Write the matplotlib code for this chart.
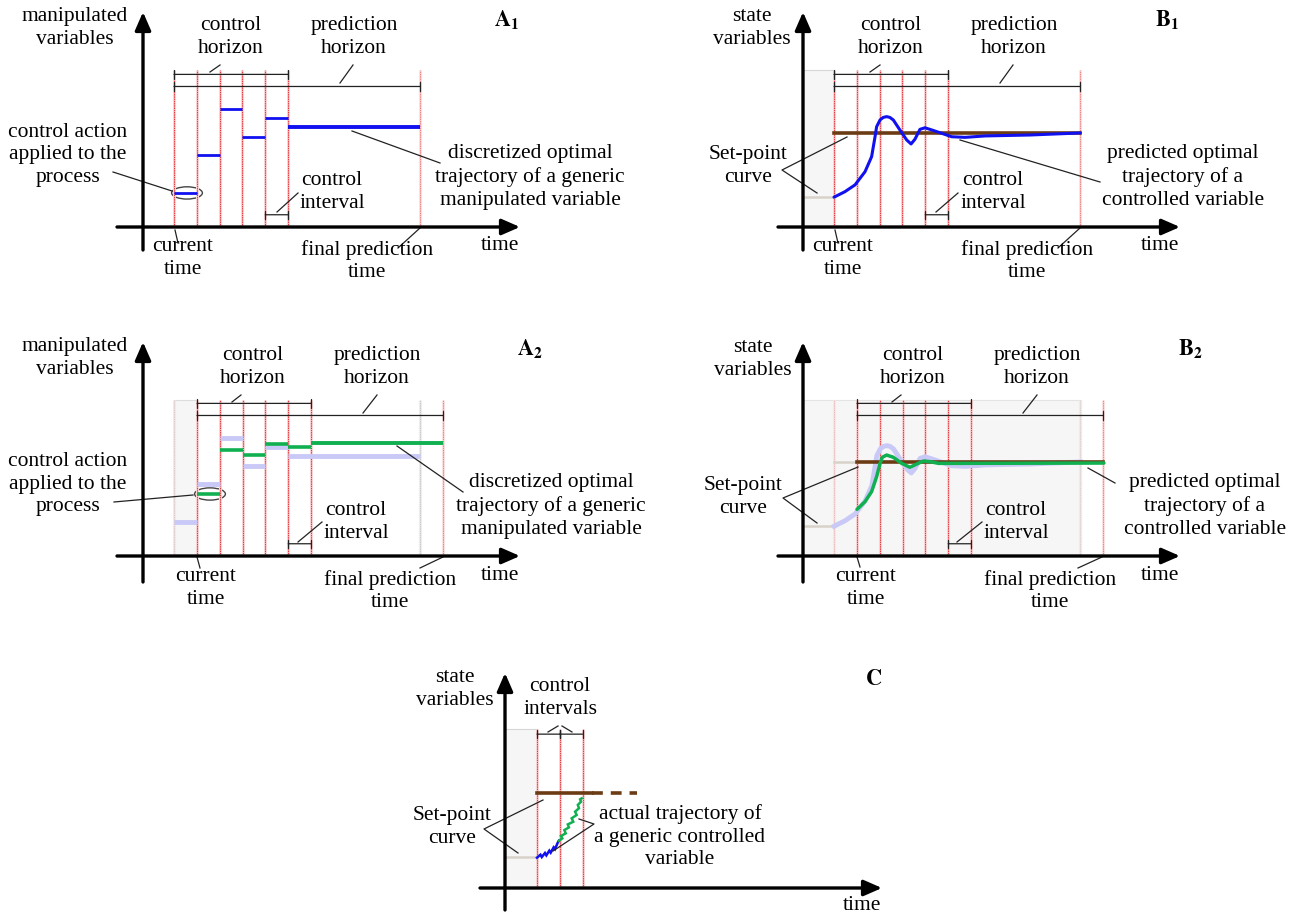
import matplotlib
matplotlib.use("Agg")
import matplotlib.pyplot as plt
from matplotlib.patches import Ellipse, Rectangle

plt.rcParams['font.family'] = ['Liberation Serif', 'DejaVu Serif']
plt.rcParams['mathtext.fontset'] = 'stix'

# ---------------- data (time in control intervals, value in arbitrary units) ----------------
interval_edges = [0, 1, 2, 3, 4, 5]          # control intervals inside the control horizon
final_prediction = 10.8                        # final prediction time
control_horizon = [0, 5]
prediction_horizon = [0, 10.8]

A1_steps = [2.17, 4.59, 7.52, 5.73, 6.94, 6.37]      # blue optimal moves (A1)
A2_steps = [3.95, 6.75, 6.43, 7.13, 6.94, 7.20]      # green optimal moves (A2)

B1_t = [0, 0.48, 0.92, 1.36, 1.65, 1.80, 1.87, 2.02, 2.16, 2.31, 2.45, 2.60, 2.89,
        3.19, 3.38, 3.55, 3.77, 3.99, 4.29, 4.72, 5.16, 5.75, 6.62, 8.6, 10.8]
B1_y = [1.90, 2.25, 2.68, 3.52, 4.48, 5.75, 6.39, 6.82, 6.98, 7.03, 6.98, 6.82, 6.18,
        5.54, 5.29, 5.59, 6.22, 6.32, 6.18, 5.97, 5.75, 5.71, 5.80, 5.86, 5.99]

B2_t = [0, 0.35, 0.64, 0.86, 1.01, 1.11, 1.30, 1.59, 1.96, 2.32, 2.62, 2.91, 3.20,
        3.57, 4.15, 10.83]
B2_y = [2.97, 3.46, 4.10, 5.05, 5.90, 6.29, 6.43, 6.29, 5.90, 5.65, 5.86, 6.05, 6.01,
        5.90, 5.90, 5.92]

setpoint_low, setpoint_high = 1.90, 5.97

C_blue_t = [0.0, 0.15, 0.21, 0.35, 0.41, 0.54, 0.60, 0.73, 0.79, 0.91, 0.96]
C_blue_y = [1.93, 2.12, 1.97, 2.23, 2.08, 2.38, 2.25, 2.59, 2.48, 2.89, 3.01]
C_green_t = [0.96, 1.11, 1.05, 1.26, 1.20, 1.40, 1.35, 1.59, 1.52, 1.74, 1.67, 1.84,
             1.79, 1.93, 1.89, 1.96]
C_green_y = [3.01, 3.16, 3.31, 3.48, 3.69, 3.86, 4.05, 4.22, 4.44, 4.65, 4.86, 5.08,
             5.29, 5.50, 5.65, 5.71]
C_setpoint = [1.97, 6.05]
C_setpoint_solid_end, C_setpoint_dash_end = 2.4, 4.4

# ---------------- layout ----------------
W, H = 1291, 913
SX, SY = 22.8, 15.7
fig = plt.figure(figsize=(W / 100, H / 100), dpi=100)

RED = '#e8353a'
PINK = '#f9d3d3'
BLUE = '#1010f0'
FADED = '#c9c9f7'
GREEN = '#10b050'
BROWN = '#6b3c14'
SHADE = '#f6f6f6'


def panel(x0, y0):
    ax = fig.add_axes([0, 0, 1, 1])
    ax.set_xlim(-x0 / SX, (W - x0) / SX)
    ax.set_ylim((y0 - H) / SY, y0 / SY)
    ax.axis('off')
    ax.patch.set_alpha(0)
    return ax


def vline(ax, t, top, color=RED, halo=PINK):
    ax.plot([t, t], [0, top], color=halo, lw=2.2, solid_capstyle='butt')
    ax.plot([t, t], [0, top], color=color, lw=0.7, ls=(0, (1.5, 0.8)))


def bar(ax, t0, t1, y):
    ax.annotate('', xy=(t1, y), xytext=(t0, y),
                arrowprops=dict(arrowstyle='|-|,widthA=0.25,widthB=0.25', lw=0.9,
                                color='#222222', shrinkA=0, shrinkB=0, mutation_scale=12))


def steps(ax, edges_start, vals, end, color, lw):
    starts = [edges_start + i for i in range(len(vals))]
    ends = starts[1:] + [end]
    for s, e, v in zip(starts, ends, vals):
        ax.plot([s, e], [v, v], color=color, lw=lw, solid_capstyle='butt')


def mpc_frame(ax, shade_from=None, shade_to=0, top=10.0):
    if shade_from is not None:
        ax.add_patch(Rectangle((shade_from, 0), shade_to - shade_from, top,
                               facecolor=SHADE, edgecolor='#d6d6d6', lw=0.8))
    for t in interval_edges:
        vline(ax, t, top)
    vline(ax, final_prediction, top, color='#f08080', halo='#fbe0e0')
    bar(ax, control_horizon[0], control_horizon[1], 9.72)
    bar(ax, prediction_horizon[0], prediction_horizon[1], 8.95)
    bar(ax, 4, 5, 0.78)


# ---- A1
axA1 = panel(174, 227)
mpc_frame(axA1)
steps(axA1, 0, A1_steps[:-1], 5, BLUE, 2.0)
steps(axA1, 5, A1_steps[-1:], final_prediction, BLUE, 2.8)
axA1.add_patch(Ellipse((0.57, A1_steps[0]), 1.35, 0.78, fill=False, ec='#444444', lw=1.0))

# ---- A2
axA2 = panel(197, 556)
axA2.add_patch(Rectangle((-1, 0), 1, 9.94, facecolor=SHADE, edgecolor='#dddddd', lw=0.8))
vline(axA2, -1, 9.94, color='#e0c8c8', halo='#f0eaea')
vline(axA2, final_prediction - 1, 9.94, color='#c8c8c8', halo='#eeeeee')
mpc_frame(axA2, top=9.94)
steps(axA2, -1, A1_steps[:-1], 4, FADED, 3.5)
steps(axA2, 4, A1_steps[-1:], final_prediction - 1, FADED, 3.5)
steps(axA2, 0, A2_steps[:-1], 5, GREEN, 2.6)
steps(axA2, 5, A2_steps[-1:], final_prediction, GREEN, 2.8)
axA2.add_patch(Ellipse((0.57, A2_steps[0]), 1.35, 0.78, fill=False, ec='#444444', lw=1.0))

# ---- B1
axB1 = panel(834, 227)
mpc_frame(axB1, shade_from=-1.36)
axB1.plot([-1.36, 0], [setpoint_low] * 2, color='#d9d2c9', lw=1.8)
axB1.plot([0, final_prediction], [setpoint_high] * 2, color=BROWN, lw=2.6)
axB1.plot(B1_t, B1_y, color=BLUE, lw=2.2, solid_joinstyle='round', solid_capstyle='round')

# ---- B2
axB2 = panel(857, 556)
axB2.add_patch(Rectangle((-2.37, 0), 12.2, 9.94, facecolor=SHADE, edgecolor='#e4e4e4', lw=0.8))
vline(axB2, -1, 9.94, color='#f0b8b8', halo='#f6e8e8')
vline(axB2, final_prediction - 1, 9.94, color='#e0d0d0', halo='#f0eaea')
mpc_frame(axB2, top=9.94)
axB2.plot([-2.37, -1], [setpoint_low] * 2, color='#d9d2c9', lw=1.8)
axB2.plot([-1, 0], [setpoint_high] * 2, color='#d9d2c9', lw=1.8)
axB2.plot([t - 1 for t in B1_t], B1_y, color=FADED, lw=3.5, solid_joinstyle='round')
axB2.plot([0, final_prediction], [setpoint_high] * 2, color=BROWN, lw=2.6)
axB2.plot(B2_t, B2_y, color=GREEN, lw=2.5, solid_joinstyle='round', solid_capstyle='round')

# ---- C
axC = panel(537, 888)
axC.add_patch(Rectangle((-1.4, 0), 1.4, 10.1, facecolor=SHADE, edgecolor='#d6d6d6', lw=0.8))
for t in interval_edges[:3]:
    vline(axC, t, 10.1)
for a, b in zip(interval_edges[:2], interval_edges[1:3]):
    bar(axC, a, b, 9.8)
axC.plot([-1.4, 0], [C_setpoint[0]] * 2, color='#d9d2c9', lw=1.8)
axC.plot([0, C_setpoint_solid_end], [C_setpoint[1]] * 2, color=BROWN, lw=2.6)
axC.plot([C_setpoint_solid_end, C_setpoint_dash_end], [C_setpoint[1]] * 2, color=BROWN, lw=2.6,
         ls=(0, (3, 2.2)))
axC.plot(C_blue_t, C_blue_y, color=BLUE, lw=1.8, solid_joinstyle='miter')
axC.plot(C_green_t, C_green_y, color=GREEN, lw=1.8, solid_joinstyle='miter')

# ---------------- overlay for axes arrows, text and leader lines (pixel coords) ----------------
ov = fig.add_axes([0, 0, 1, 1])
ov.set_xlim(0, W)
ov.set_ylim(H, 0)
ov.axis('off')
ov.patch.set_alpha(0)


def arrow(x0, y0, x1, y1):
    ov.annotate('', xy=(x1, y1), xytext=(x0, y0),
                arrowprops=dict(arrowstyle='-|>,head_length=0.55,head_width=0.24', lw=2.4,
                                color='black', shrinkA=0, shrinkB=0, mutation_scale=20))


def axes_pair(xa, ya_top, ya_bot, yb, xb_left, xb_right):
    arrow(xa, ya_bot, xa, ya_top)
    arrow(xb_left, yb, xb_right, yb)


axes_pair(143, 12, 250, 227, 117, 520)
axes_pair(803, 12, 250, 227, 778, 1180)
axes_pair(143, 342, 582, 556, 117, 520)
axes_pair(803, 342, 582, 556, 778, 1180)
axes_pair(505, 673, 910, 888, 480, 882)

FS = 15.5
LS = 1.25


def txt(x, y, s, size=FS):
    ov.text(x, y, s, ha='center', va='center', fontsize=size, linespacing=LS)


def lead(*pts):
    xs = [p[0] for p in pts]
    ys = [p[1] for p in pts]
    ov.plot(xs, ys, color='#222222', lw=0.9)


# A1
txt(75, 28, 'manipulated\nvariables')
txt(231, 37, 'control\nhorizon')
txt(354, 37, 'prediction\nhorizon')
txt(507, 20, r'$\mathbf{A_1}$', 16)
txt(68, 155, 'control action\napplied to the\nprocess')
txt(183, 258, 'current\ntime')
txt(332, 192, 'control\ninterval')
txt(367, 261, 'final prediction\ntime')
txt(530, 177, 'discretized optimal\ntrajectory of a generic\nmanipulated variable')
txt(500, 245, 'time')
lead((210, 72), (220, 65))
lead((340, 83), (353, 65))
lead((113, 172), (172, 191))
lead((277, 212), (298, 193))
lead((175, 230), (178, 243))
lead((398, 248), (420, 228))
lead((352, 131), (440, 163))

# B1
txt(752, 28, 'state\nvariables')
txt(891, 37, 'control\nhorizon')
txt(1014, 37, 'prediction\nhorizon')
txt(1167, 20, r'$\mathbf{B_1}$', 16)
txt(748, 166, 'Set-point\ncurve')
txt(843, 258, 'current\ntime')
txt(993, 192, 'control\ninterval')
txt(1027, 261, 'final prediction\ntime')
txt(1183, 177, 'predicted optimal\ntrajectory of a\ncontrolled variable')
txt(1160, 245, 'time')
lead((870, 72), (880, 65))
lead((1000, 83), (1013, 65))
lead((847, 137), (782, 170), (817, 193))
lead((835, 230), (838, 243))
lead((936, 212), (958, 193))
lead((1058, 248), (1080, 228))
lead((960, 140), (1100, 182))

# A2
txt(75, 358, 'manipulated\nvariables')
txt(253, 367, 'control\nhorizon')
txt(377, 367, 'prediction\nhorizon')
txt(530, 349, r'$\mathbf{A_2}$', 16)
txt(68, 484, 'control action\napplied to the\nprocess')
txt(206, 588, 'current\ntime')
txt(356, 522, 'control\ninterval')
txt(390, 591, 'final prediction\ntime')
txt(551, 506, 'discretized optimal\ntrajectory of a generic\nmanipulated variable')
txt(500, 575, 'time')
lead((232, 402), (241, 395))
lead((363, 413), (377, 395))
lead((114, 502), (193, 495))
lead((298, 542), (322, 522))
lead((197, 557), (200, 568))
lead((420, 568), (443, 557))
lead((397, 446), (463, 492))

# B2
txt(753, 359, 'state\nvariables')
txt(913, 367, 'control\nhorizon')
txt(1037, 367, 'prediction\nhorizon')
txt(1190, 349, r'$\mathbf{B_2}$', 16)
txt(743, 497, 'Set-point\ncurve')
txt(866, 588, 'current\ntime')
txt(1016, 522, 'control\ninterval')
txt(1050, 591, 'final prediction\ntime')
txt(1205, 506, 'predicted optimal\ntrajectory of a\ncontrolled variable')
txt(1160, 575, 'time')
lead((892, 402), (901, 395))
lead((1023, 413), (1037, 395))
lead((858, 467), (783, 498), (817, 523))
lead((857, 557), (860, 567))
lead((957, 542), (982, 522))
lead((1078, 568), (1102, 557))
lead((1088, 468), (1115, 483))

# C
txt(455, 689, 'state\nvariables')
txt(560, 698, 'control\nintervals')
txt(874, 680, r'$\mathbf{C}$', 16)
txt(452, 827, 'Set-point\ncurve')
txt(680, 837, 'actual trajectory of\na generic controlled\nvariable')
txt(862, 905, 'time')
lead((548, 732), (558, 726))
lead((562, 726), (572, 732))
lead((543, 800), (484, 829), (518, 853))
lead((579, 819), (594, 824), (553, 851))

fig.savefig('out.png', dpi=100)
